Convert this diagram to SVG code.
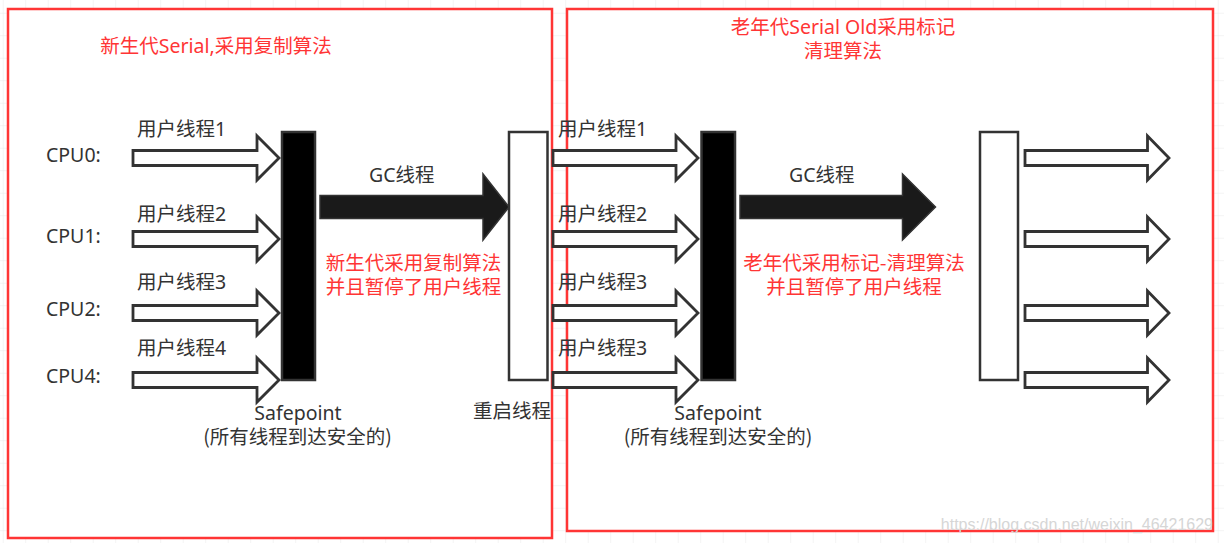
<svg xmlns="http://www.w3.org/2000/svg" width="1224" height="543" viewBox="0 0 1224 543">
<defs>
<pattern id="grid" x="2.7" y="12.7" width="22.5" height="22.5" patternUnits="userSpaceOnUse">
<path d="M0,0 H22.5 M0,0 V22.5" fill="none" stroke="#e9e9e9" stroke-width="1"/>
</pattern>
<style>
.box{fill:#fff;stroke:#ff3535;stroke-width:2.5}
.bar{stroke:#333;stroke-width:2.5}
.hollow{fill:#fff;stroke:#333;stroke-width:2.8;stroke-linejoin:miter}
.gc{fill:#1a1a1a;stroke:#333;stroke-width:1.5}
.t{font-family:"Noto Sans","Noto Sans CJK SC",sans-serif;font-size:19.5px;fill:#333}
.r{font-family:"Noto Sans","Noto Sans CJK SC",sans-serif;font-size:19.5px;fill:#ff3535}
.c{font-family:"Noto Sans CJK SC",sans-serif}
.m{text-anchor:middle}
.wm{font-family:"Liberation Sans",Arial,sans-serif;font-size:16px;fill:#d6d6d6;text-anchor:end}
</style>
</defs>
<rect x="0" y="0" width="1224" height="543" fill="#fff"/>
<rect x="0" y="0" width="1224" height="543" fill="url(#grid)"/>

<g id="young-box">
<rect class="box" x="8" y="9" width="544" height="529"/>
<text class="r m" x="216" y="53">新生代Serial,采用复制算法</text>
</g>
<g id="old-box">
<rect class="box" x="567" y="9" width="646" height="522"/>
<text class="r m" x="843" y="34">老年代Serial Old采用标记</text>
<text class="r m c" x="843" y="58">清理算法</text>
</g>

<g id="cpu-labels">
<text class="t" x="46" y="162">CPU0:</text>
<text class="t" x="46" y="243">CPU1:</text>
<text class="t" x="46" y="316">CPU2:</text>
<text class="t" x="46" y="383">CPU4:</text>
</g>

<g id="thread-labels-left">
<text class="t" x="137" y="135.5">用户线程1</text>
<text class="t" x="137" y="221">用户线程2</text>
<text class="t" x="137" y="288.5">用户线程3</text>
<text class="t" x="137" y="355">用户线程4</text>
</g>
<g id="thread-labels-right">
<text class="t" x="558" y="135.5">用户线程1</text>
<text class="t" x="558" y="221">用户线程2</text>
<text class="t" x="558" y="288.5">用户线程3</text>
<text class="t" x="558" y="355">用户线程3</text>
</g>

<g id="safepoint-left">
<rect class="bar" x="282" y="132" width="33" height="248" fill="#000"/>
<text class="t m" x="298" y="419.5">Safepoint</text>
<text class="t m c" x="297.5" y="443.5">(所有线程到达安全的)</text>
</g>
<g id="restart">
<rect class="bar" x="509" y="132" width="38.5" height="248" fill="#fff"/>
<text class="t m c" x="512" y="418">重启线程</text>
</g>
<g id="safepoint-right">
<rect class="bar" x="701.5" y="132" width="33.5" height="248" fill="#000"/>
<text class="t m" x="718" y="419.5">Safepoint</text>
<text class="t m c" x="718" y="443.5">(所有线程到达安全的)</text>
</g>
<g id="resume-right">
<rect class="bar" x="980" y="132" width="38" height="248" fill="#fff"/>
</g>

<g id="gc-left">
<text class="t" x="369" y="182">GC线程</text>
<text class="r m c" x="413.5" y="270">新生代采用复制算法</text>
<text class="r m c" x="413.5" y="294">并且暂停了用户线程</text>
</g>
<g id="gc-right">
<text class="t" x="789" y="182">GC线程</text>
<text class="r m c" x="854" y="270">老年代采用标记-清理算法</text>
<text class="r m c" x="854" y="294">并且暂停了用户线程</text>
</g>

<g id="connectors">
<path class="hollow" d="M133,150.5 H257 V136 L279,158 L257,180 V165.5 H133 Z"/>
<path class="hollow" d="M133,231.5 H257 V217 L279,239 L257,261 V246.5 H133 Z"/>
<path class="hollow" d="M133,305.5 H257 V291 L279,313 L257,335 V320.5 H133 Z"/>
<path class="hollow" d="M133,372.5 H257 V358 L279,380 L257,402 V387.5 H133 Z"/>

<path class="hollow" d="M553,150.5 H676 V136 L698,158 L676,180 V165.5 H553 Z"/>
<path class="hollow" d="M553,231.5 H676 V217 L698,239 L676,261 V246.5 H553 Z"/>
<path class="hollow" d="M553,305.5 H676 V291 L698,313 L676,335 V320.5 H553 Z"/>
<path class="hollow" d="M553,372.5 H676 V358 L698,380 L676,402 V387.5 H553 Z"/>

<path class="hollow" d="M1025,150.5 H1147.5 V136 L1169,158 L1147.5,180 V165.5 H1025 Z"/>
<path class="hollow" d="M1025,231.5 H1147.5 V217 L1169,239 L1147.5,261 V246.5 H1025 Z"/>
<path class="hollow" d="M1025,305.5 H1147.5 V291 L1169,313 L1147.5,335 V320.5 H1025 Z"/>
<path class="hollow" d="M1025,372.5 H1147.5 V358 L1169,380 L1147.5,402 V387.5 H1025 Z"/>

<path class="gc" d="M320,195.5 H483 V174 L509,207 L483,240 V218.5 H320 Z"/>
<path class="gc" d="M740,195.5 H902.5 V174 L935.5,207 L902.5,240 V218.5 H740 Z"/>
</g>

<text class="wm" x="1213" y="530">https://blog.csdn.net/weixin_46421629</text>
</svg>
